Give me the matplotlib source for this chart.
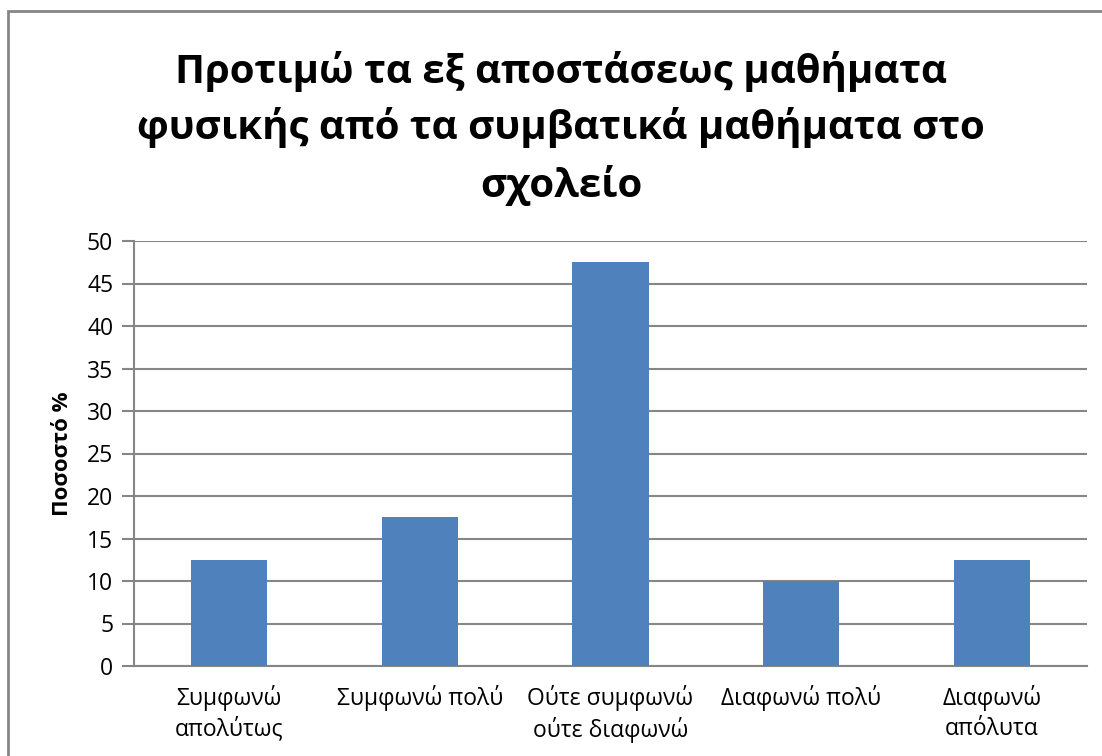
import matplotlib.pyplot as plt
from matplotlib.patches import Rectangle

categories = ['Συμφωνώ\nαπολύτως', 'Συμφωνώ πολύ', 'Ούτε συμφωνώ\nούτε διαφωνώ',
              'Διαφωνώ πολύ', 'Διαφωνώ\nαπόλυτα']
values = [12.5, 17.5, 47.5, 10, 12.5]
yticks = list(range(0, 55, 5))

plt.rcParams['font.family'] = ['Open Sans', 'DejaVu Sans']

fig = plt.figure(figsize=(11.02, 7.56), dpi=100)
ax = fig.add_axes([134 / 1102, 1 - 666 / 756, (1087 - 134) / 1102, (666 - 241) / 756])

x = range(len(categories))
ax.bar(x, values, width=0.4, color='#4F81BD', zorder=3)
ax.set_xlim(-0.5, len(categories) - 0.5)
ax.set_ylim(0, 50)
ax.set_yticks(yticks)
ax.set_xticks(list(x))
ax.set_xticklabels(categories, fontsize=16.5, linespacing=1.3)
ax.tick_params(axis='y', labelsize=16.5, length=9, color='#868686', width=1.5, pad=6)
ax.tick_params(axis='x', length=0, pad=14)
ax.grid(axis='y', color='#868686', linewidth=1.5, zorder=0)
for s in ['top', 'right']:
    ax.spines[s].set_visible(False)
ax.spines['left'].set_color('#868686')
ax.spines['left'].set_linewidth(1.5)
ax.spines['bottom'].set_color('#868686')
ax.spines['bottom'].set_linewidth(1.5)

ax.set_ylabel('Ποσοστό %', fontsize=16, fontweight='bold', labelpad=10)

fig.text(561 / 1102, 1 - 128 / 756, 'Προτιμώ τα εξ αποστάσεως μαθήματα\nφυσικής από τα συμβατικά μαθήματα στο\nσχολείο',
         ha='center', va='center', fontsize=29, fontweight='bold', linespacing=1.5)

frame = Rectangle((8 / 1102, 0 - 0.05), 1.2, 1 - 11 / 756 + 0.05, transform=fig.transFigure,
                  fill=False, edgecolor='#868686', linewidth=2, clip_on=False)
fig.patches.append(frame)

plt.savefig('out.png', dpi=100)
